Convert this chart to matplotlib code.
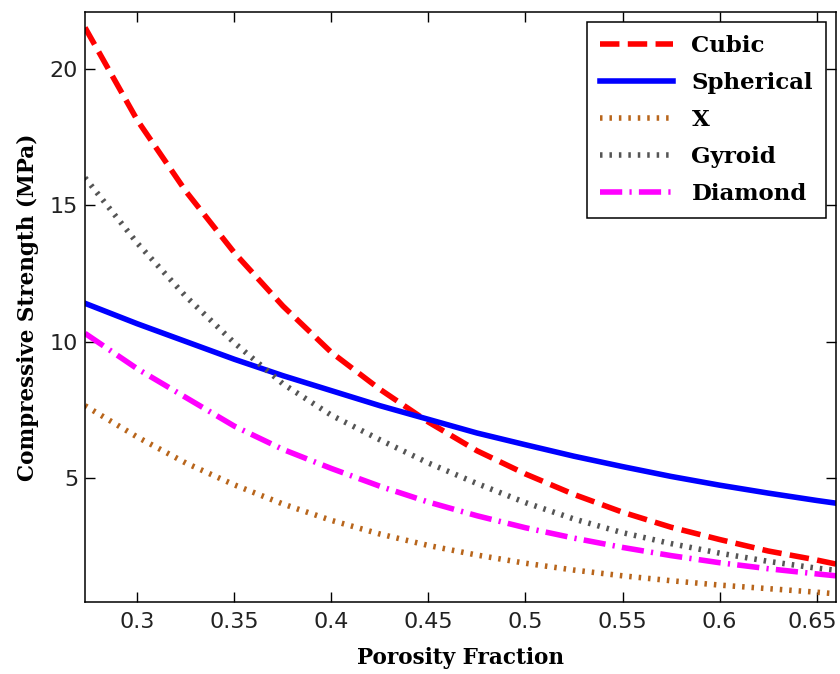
import matplotlib
matplotlib.use("Agg")
import matplotlib.pyplot as plt
import matplotlib.transforms as mtransforms
from matplotlib.ticker import FormatStrFormatter

porosity = [0.273, 0.30, 0.325, 0.35, 0.375, 0.40, 0.425, 0.45, 0.475,
            0.50, 0.525, 0.55, 0.575, 0.60, 0.625, 0.65, 0.66]

cubic = [21.5, 18.1, 15.5, 13.25, 11.3, 9.6, 8.25, 7.05, 6.0,
         5.15, 4.4, 3.75, 3.2, 2.75, 2.33, 2.0, 1.85]
spherical = [11.4, 10.65, 10.0, 9.35, 8.75, 8.2, 7.65, 7.15, 6.65,
             6.22, 5.8, 5.42, 5.06, 4.74, 4.45, 4.18, 4.08]
x_cell = [7.65, 6.5, 5.55, 4.75, 4.05, 3.45, 2.95, 2.53, 2.18,
          1.88, 1.63, 1.42, 1.24, 1.08, 0.95, 0.82, 0.76]
gyroid = [16.0, 13.6, 11.65, 9.95, 8.45, 7.3, 6.4, 5.55, 4.8,
          4.1, 3.5, 3.0, 2.6, 2.25, 1.95, 1.7, 1.62]
diamond = [10.3, 9.0, 7.95, 6.9, 6.05, 5.35, 4.7, 4.12, 3.62,
           3.18, 2.8, 2.46, 2.16, 1.9, 1.68, 1.49, 1.42]

xticks = [0.3, 0.35, 0.4, 0.45, 0.5, 0.55, 0.6, 0.65]
yticks = [5, 10, 15, 20]

label_font = {"family": "DejaVu Serif", "weight": "bold", "size": 15.5}

fig = plt.figure(figsize=(8.4, 6.74), dpi=100)
ax = fig.add_axes([0.1012, 0.1068, 0.894, 0.8754])

ax.plot(porosity, cubic, color="#ff0000", lw=4, dashes=(3.5, 1.5), label="Cubic")
ax.plot(porosity, spherical, color="#0000ff", lw=4, label="Spherical")
ax.plot(porosity, x_cell, color="#b8651b", lw=4, dashes=(0.45, 1.25), label="X")
ax.plot(porosity, gyroid, color="#555555", lw=4, dashes=(0.45, 1.25), label="Gyroid")
ax.plot(porosity, diamond, color="#ff00ff", lw=4, dashes=(4, 1.3, 0.4, 1.3), label="Diamond")

ax.set_xlim(0.273, 0.66)
ax.set_ylim(0.46, 22.07)
ax.set_xticks(xticks)
ax.set_yticks(yticks)
ax.xaxis.set_major_formatter(FormatStrFormatter("%g"))
ax.tick_params(direction="in", length=7, width=1, top=True, right=True,
               labelsize=16)
ax.tick_params(axis="x", pad=7)
ax.tick_params(axis="y", pad=5)
for lab in ax.get_xticklabels() + ax.get_yticklabels():
    lab.set_family("DejaVu Sans")
    lab.set_color("#222222")
# keep the last x label inside the figure edge
last = ax.get_xticklabels()[-1]
last.set_transform(last.get_transform() +
                   mtransforms.ScaledTranslation(-4 / 100, 0, fig.dpi_scale_trans))
for s in ax.spines.values():
    s.set_linewidth(1.1)

ax.set_xlabel("Porosity Fraction", fontdict=label_font, labelpad=11)
ax.set_ylabel("Compressive Strength (MPa)", fontdict=label_font, labelpad=8)

leg = ax.legend(loc="upper right", prop={"family": "DejaVu Serif", "weight": "bold", "size": 16.5},
                fancybox=False, edgecolor="black", framealpha=1, handlelength=3.2,
                handletextpad=0.8, labelspacing=0.66, borderaxespad=0.45, borderpad=0.55)
leg.get_frame().set_linewidth(1.1)

fig.savefig("out.png", dpi=100)
